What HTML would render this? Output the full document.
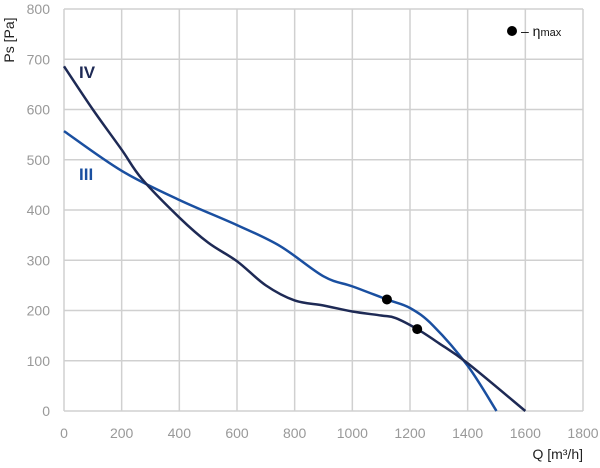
<!DOCTYPE html>
<html><head><meta charset="utf-8"><style>
body{margin:0;background:#fff;}
svg{display:block;font-family:"Liberation Sans","DejaVu Sans",sans-serif;}
</style></head><body>
<svg id="chart" width="600" height="468" viewBox="0 0 600 468">
<g id="grid"></g>
<g id="xticks"></g>
<g id="yticks"></g>
<g id="series"></g>
<text x="14" y="40" transform="rotate(-90 14 40)" font-size="14" fill="#222" text-anchor="middle">Ps [Pa]</text>
<text x="583" y="459" font-size="14" fill="#222" text-anchor="end">Q [m³/h]</text>
<text x="79" y="78" font-size="17" font-weight="bold" fill="#1e2a55">IV</text>
<text x="79" y="180" font-size="17" font-weight="bold" fill="#1a4fa0">III</text>
<g>
<circle cx="512" cy="31" r="5" fill="#000"/>
<text x="521" y="36" font-size="14" fill="#111">– η<tspan font-size="11">max</tspan></text>
</g>
</svg>
<script>
const xTicks=[0,200,400,600,800,1000,1200,1400,1600,1800];
const yTicks=[0,100,200,300,400,500,600,700,800];
const qIII=[0,200,400,600,750,900,1000,1120,1200,1280,1400,1500];
const pIII=[557,478,420,370,328,268,248,222,205,170,90,0];
const qIV=[0,100,200,270,400,500,600,700,800,900,1000,1100,1150,1225,1300,1400,1600];
const pIV=[686,600,520,462,385,335,298,250,220,210,198,190,185,163,135,95,0];
const etaQ=[1120,1225];
const etaP=[222,163];
const X0=64,X1=583,Y0=411,Y1=9;
const xs=v=>X0+(v/1800)*(X1-X0);
const ys=v=>Y0-(v/800)*(Y0-Y1);
const NS="http://www.w3.org/2000/svg";
const grid=document.getElementById('grid'),xt=document.getElementById('xticks'),yt=document.getElementById('yticks'),ser=document.getElementById('series');
function mk(t,a){const e=document.createElementNS(NS,t);for(const k in a)e.setAttribute(k,a[k]);return e;}
xTicks.forEach(v=>{
 const l=mk('line',{x1:xs(v),x2:xs(v),y1:Y1,y2:Y0,stroke:'#d0d0d0','stroke-width':1.5});
 
 
 grid.appendChild(l);
 const t=mk('text',{x:xs(v),y:438,'font-size':14,fill:'#999','text-anchor':'middle'});
 
 
 t.textContent=v;xt.appendChild(t);
});
yTicks.forEach(v=>{
 const l=mk('line',{x1:X0,x2:X1,y1:ys(v),y2:ys(v),stroke:'#d0d0d0','stroke-width':1.5});
 
 
 grid.appendChild(l);
 const t=mk('text',{x:50,y:ys(v)+5,'font-size':14,fill:'#999','text-anchor':'end'});
 
 
 t.textContent=v;yt.appendChild(t);
});
function path(q,p){
 const pts=q.map((v,i)=>[xs(v),ys(p[i])]);
 let d='M'+pts[0][0]+','+pts[0][1];
 for(let i=0;i<pts.length-1;i++){
  const p0=pts[i-1]||pts[i],p1=pts[i],p2=pts[i+1],p3=pts[i+2]||p2;
  const c1x=p1[0]+(p2[0]-p0[0])/6,c1y=p1[1]+(p2[1]-p0[1])/6;
  const c2x=p2[0]-(p3[0]-p1[0])/6,c2y=p2[1]-(p3[1]-p1[1])/6;
  d+=` C${c1x},${c1y} ${c2x},${c2y} ${p2[0]},${p2[1]}`;
 }
 return d;
}
const a=mk('path',{d:path(qIII,pIII),fill:'none',stroke:'#1a4fa0','stroke-width':2.5});


ser.appendChild(a);
const b=mk('path',{d:path(qIV,pIV),fill:'none',stroke:'#1e2a55','stroke-width':2.5});


ser.appendChild(b);
etaQ.forEach((q,i)=>{
 const c=mk('circle',{cx:xs(q),cy:ys(etaP[i]),r:5,fill:'#000'});
 
 
 ser.appendChild(c);
});
</script>
</body></html>
